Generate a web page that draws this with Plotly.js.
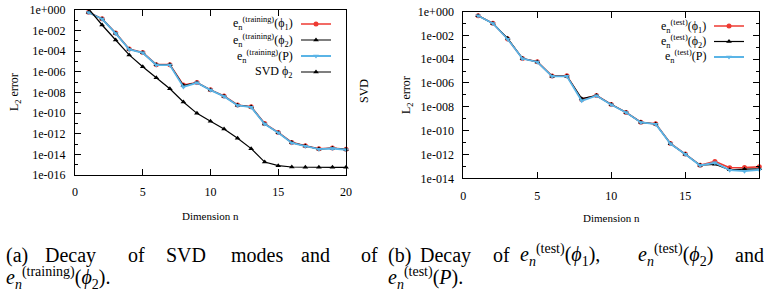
<!DOCTYPE html>
<html><head><meta charset="utf-8">
<script src="https://cdn.plot.ly/plotly-3.0.1.min.js"></script>
<style>html,body{margin:0;padding:0;background:#fff}#chart{width:764px;height:303px}</style>
</head><body><div id="chart"></div>
<script>
// ---------- data ----------
const dims = [1,2,3,4,5,6,7,8,9,10,11,12,13,14,15,16,17,18,19,20];

// (a) training errors and SVD decay
const trainPhi1 = [6.0e-1,1.4e-1,5.8e-3,1.65e-4,7.5e-5,5.0e-6,5.0e-6,5.2e-8,9.3e-8,1.8e-8,4.6e-9,6.1e-10,4.2e-10,9.6e-12,1.35e-12,1.45e-13,7.0e-14,3.5e-14,4.2e-14,3.1e-14];
const trainPhi2 = [5.9e-1,1.35e-1,5.6e-3,1.55e-4,7.2e-5,4.8e-6,4.8e-6,4.8e-8,9.0e-8,1.75e-8,4.4e-9,5.9e-10,4.0e-10,9.0e-12,1.28e-12,1.38e-13,6.6e-14,3.3e-14,4.0e-14,3.0e-14];
const trainP    = [5.8e-1,1.33e-1,5.4e-3,1.5e-4,7.0e-5,4.6e-6,4.6e-6,3.5e-8,8.7e-8,1.7e-8,4.2e-9,5.6e-10,3.8e-10,8.6e-12,1.22e-12,1.3e-13,6.3e-14,3.2e-14,3.7e-14,2.8e-14];
const svdPhi2   = [1.3,3.5e-2,1.23e-3,4.4e-5,3.2e-6,2.75e-7,2.3e-8,1.2e-9,9.5e-11,1.6e-11,2.9e-12,3.6e-13,3.6e-14,1.8e-15,8e-16,6e-16,5.6e-16,5.6e-16,5.6e-16,5.6e-16];

// (b) test errors
const testPhi1 = [4.5e-1,1.02e-1,4.9e-3,1.15e-4,6.0e-5,3.8e-6,4.0e-6,4.2e-8,9.0e-8,1.6e-8,3.4e-9,5.1e-10,3.7e-10,8.3e-12,1.07e-12,1.26e-13,2.6e-13,7.6e-14,8.0e-14,9.1e-14];
const testPhi2 = [4.5e-1,1.0e-1,5.6e-3,1.12e-4,5.9e-5,3.7e-6,3.7e-6,4.8e-8,8.7e-8,1.55e-8,3.3e-9,5.0e-10,3.6e-10,8.0e-12,1.05e-12,1.25e-13,1.5e-13,5.1e-14,5.8e-14,6.2e-14];
const testP    = [4.4e-1,1.0e-1,4.7e-3,1.1e-4,5.8e-5,3.6e-6,3.6e-6,3.2e-8,8.5e-8,1.5e-8,3.3e-9,4.9e-10,3.5e-10,7.9e-12,1.04e-12,1.2e-13,2.0e-13,4.8e-14,4.0e-14,5.1e-14];

// axis ticks
const xTickVals = [0,5,10,15,20];
const leftYTickVals  = [1,1e-2,1e-4,1e-6,1e-8,1e-10,1e-12,1e-14,1e-16];
const leftYTickText  = ["1e+000","1e-002","1e-004","1e-006","1e-008","1e-010","1e-012","1e-014","1e-016"];
const leftYMinor     = [1e-1,1e-3,1e-5,1e-7,1e-9,1e-11,1e-13,1e-15];
const rightYTickVals = [1,1e-2,1e-4,1e-6,1e-8,1e-10,1e-12,1e-14];
const rightYTickText = ["1e+000","1e-002","1e-004","1e-006","1e-008","1e-010","1e-012","1e-014"];
const rightYMinor    = [1e-1,1e-3,1e-5,1e-7,1e-9,1e-11,1e-13];

// legend / caption texts
const legendA = ['e<sub>n</sub><sup>(training)</sup>(ϕ<sub>1</sub>)', 'e<sub>n</sub><sup>(training)</sup>(ϕ<sub>2</sub>)',
                 'e<sub>n</sub><sup>(training)</sup>(P)', 'SVD ϕ<sub>2</sub>'];
const legendB = ['e<sub>n</sub><sup>(test)</sup>(ϕ<sub>1</sub>)', 'e<sub>n</sub><sup>(test)</sup>(ϕ<sub>2</sub>)',
                 'e<sub>n</sub><sup>(test)</sup>(P)'];

// ---------- styling ----------
const W = 764, H = 303;
const FONT = 'Liberation Serif';
const RED = '#ee3a32', BLUE = '#5ab4e6', BLACK = '#000000';
const px = v => v / W, py = v => 1 - v / H;

function tr(y, xa, ya, color, width, symbol, size, legend) {
  return {x: dims, y: y, xaxis: xa, yaxis: ya, type: 'scatter', mode: 'lines+markers',
    name: ' ', legend: legend, cliponaxis: false,
    line: {color: color, width: width},
    marker: {color: color, symbol: symbol, size: size}};
}

const traces = [
  tr(trainPhi1, 'x', 'y', RED, 1.6, 'circle', 5, 'legend'),
  tr(trainPhi2, 'x', 'y', BLACK, 1.2, 'triangle-up', 5, 'legend2'),
  tr(trainP,    'x', 'y', BLUE, 1.8, 'triangle-down', 5, 'legend3'),
  tr(svdPhi2,   'x', 'y', BLACK, 1.2, 'triangle-up', 5, 'legend4'),
  tr(testPhi1, 'x2', 'y2', RED, 1.6, 'circle', 5, 'legend5'),
  tr(testPhi2, 'x2', 'y2', BLACK, 1.2, 'triangle-up', 5, 'legend6'),
  tr(testP,    'x2', 'y2', BLUE, 1.8, 'triangle-down', 5, 'legend7')
];

function xAxis(d0, d1) {
  return {domain: [px(d0), px(d1)], range: [0, 20], tickvals: xTickVals, ticks: 'inside', ticklen: 6,
    tickcolor: '#000', showline: true, linecolor: '#000', linewidth: 1, mirror: 'ticks',
    showgrid: false, zeroline: false, tickfont: {family: FONT, size: 12, color: '#000'}, ticklabelstandoff: 6};
}
function yAxis(top, bottom, lo, vals, text, minor, mirror) {
  return {type: 'log', domain: [py(bottom), py(top)], range: [lo, 0], tickvals: vals, ticktext: text,
    ticks: 'inside', ticklen: 6, tickcolor: '#000', showline: true, linecolor: '#000', linewidth: 1,
    mirror: mirror, showgrid: false, zeroline: false, ticklabelstandoff: 6,
    tickfont: {family: FONT, size: 12, color: '#000'},
    minor: {tickvals: minor, ticks: 'inside', ticklen: 3, tickcolor: '#000', showgrid: false}};
}
function leg(L, rowY) {
  return {x: px(L), xanchor: 'left', y: py(rowY), yanchor: 'middle', bgcolor: 'rgba(0,0,0,0)',
    borderwidth: 0, font: {family: FONT, size: 10, color: '#000'}, itemwidth: 30};
}

const anns = [];
function A(text, x, y, size, opts) {
  opts = opts || {};
  anns.push({text: text, x: px(x), y: py(y), xref: 'paper', yref: 'paper', showarrow: false,
    xanchor: opts.xa || 'left', yanchor: 'middle', textangle: opts.angle || 0, borderpad: 0,
    font: {family: FONT, size: size, color: '#000'}});
}

// axis titles
A('L<sub>2</sub> error', 15, 92, 12, {angle: -90, xa: 'center'});
A('Dimension n', 210.5, 216, 11, {xa: 'center'});
A('L<sub>2</sub> error', 407, 95, 12, {angle: -90, xa: 'center'});
A('Dimension n', 611, 218, 11, {xa: 'center'});
A('SVD', 364, 91, 12, {angle: -90, xa: 'center'});

// legend text (to the left of the legend keys)
const lrows = [24, 40, 56, 72];
legendA.forEach((t, i) => A(t, 294, lrows[i], 12, {xa: 'right'}));
const rrows = [26, 41.5, 57];
legendB.forEach((t, i) => A(t, 707, rrows[i], 12, {xa: 'right'}));

// captions
const CAP = 20;
const y1 = 255, y2 = 278;
[['(a)', 5], ['Decay', 44], ['of', 127], ['SVD', 165], ['modes', 230], ['and', 300], ['of', 360]]
  .forEach(w => A(w[0], w[1], y1, CAP));
A('<i>e</i><sub><i>n</i></sub><sup>(training)</sup>(<i>ϕ</i><sub>2</sub>).', 5, y2, CAP);

[['(b)', 387], ['Decay', 419], ['of', 492], ['and', 734]].forEach(w => A(w[0], w[1], y1, CAP));
A('<i>e</i><sub><i>n</i></sub><sup>(test)</sup>(<i>ϕ</i><sub>1</sub>),', 519, y1, CAP);
A('<i>e</i><sub><i>n</i></sub><sup>(test)</sup>(<i>ϕ</i><sub>2</sub>)', 637, y1, CAP);
A('<i>e</i><sub><i>n</i></sub><sup>(test)</sup>(<i>P</i>).', 387, y2, CAP);

const layout = {
  width: W, height: H, margin: {l: 0, r: 0, t: 0, b: 0},
  paper_bgcolor: '#fff', plot_bgcolor: '#fff', showlegend: true,
  font: {family: FONT, color: '#000'},
  xaxis: Object.assign(xAxis(75, 346), {anchor: 'y'}),
  yaxis: Object.assign(yAxis(10, 175, -16, leftYTickVals, leftYTickText, leftYMinor, true), {anchor: 'x'}),
  xaxis2: Object.assign(xAxis(463.3, 759.3), {anchor: 'y2'}),
  yaxis2: Object.assign(yAxis(11.5, 178.3, -14, rightYTickVals, rightYTickText, rightYMinor, 'ticks'), {anchor: 'x2'}),
  legend: leg(296, lrows[0]), legend2: leg(296, lrows[1]), legend3: leg(296, lrows[2]), legend4: leg(296, lrows[3]),
  legend5: leg(709, rrows[0]), legend6: leg(709, rrows[1]), legend7: leg(709, rrows[2]),
  annotations: anns
};

Plotly.newPlot('chart', traces, layout, {staticPlot: true, displayModeBar: false});
</script></body></html>
